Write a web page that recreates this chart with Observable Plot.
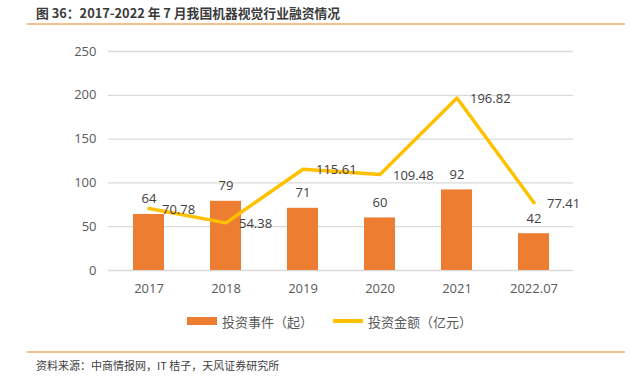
<!DOCTYPE html>
<html>
<head>
<meta charset="utf-8">
<script src="https://cdn.jsdelivr.net/npm/d3@7"></script>
<script src="https://cdn.jsdelivr.net/npm/@observablehq/plot@0.6"></script>
<style>
  body { margin: 0; background: #fff; }
  #wrap { position: relative; width: 633px; height: 377px; overflow: hidden; font-family: "Noto Sans CJK SC", "Open Sans", sans-serif; }
  #title { position: absolute; left: 36px; top: 3px; font-size: 12.8px; font-weight: bold; color: #3a3a3a; white-space: nowrap; }
  .hr { position: absolute; left: 27px; width: 598px; height: 2px; background: #F8C08F; }
  #chart { position: absolute; left: 0; top: 30px; }
  #legend { position: absolute; top: 311px; left: 0; width: 633px; height: 20px; font-size: 13px; color: #595959; }
  #legend .item { position: absolute; top: 0; display: flex; align-items: center; height: 20px; white-space: nowrap; }
  #source { position: absolute; left: 36px; top: 357px; font-size: 11px; color: #404040; white-space: nowrap; }
</style>
</head>
<body>
<div id="wrap">
  <div id="title">图 36：2017-2022 年 7 月我国机器视觉行业融资情况</div>
  <div class="hr" style="top:23px"></div>
  <div id="chart"></div>
  <div id="legend"></div>
  <div class="hr" style="top:351px"></div>
  <div id="source">资料来源：中商情报网，IT 桔子，天风证券研究所</div>
</div>
<script>
const years = ["2017", "2018", "2019", "2020", "2021", "2022.07"];
const events = [64, 79, 71, 60, 92, 42];
const amounts = [70.78, 54.38, 115.61, 109.48, 196.82, 77.41];
const yTicks = [0, 50, 100, 150, 200, 250];
const seriesNames = ["投资事件（起）", "投资金额（亿元）"];
const barColor = "#ED7D31";
const lineColor = "#FFC000";

const data = years.map((y, i) => ({year: y, events: events[i], amount: amounts[i]}));

const chart = Plot.plot({
  width: 633,
  height: 280,
  marginTop: 21,
  marginBottom: 40,
  marginLeft: 108,
  marginRight: 60,
  style: {fontFamily: "'Open Sans', 'Noto Sans CJK SC', sans-serif", fontSize: "13px", color: "#595959", background: "transparent"},
  x: {domain: years, paddingInner: 0.6, paddingOuter: 0.3, label: null},
  y: {domain: [0, 250], label: null},
  marks: [
    Plot.ruleY(yTicks, {stroke: "#d9d9d9", strokeWidth: 1.3}),
    Plot.axisY({ticks: yTicks, tickSize: 0, tickPadding: 12, label: null, fontSize: 13}),
    Plot.axisX({tickSize: 0, tickPadding: 13, label: null, fontSize: 13}),
    Plot.barY(data, {x: "year", y: "events", fill: barColor}),
    Plot.line(data, {x: "year", y: "amount", stroke: lineColor, strokeWidth: 3.5}),
    Plot.text(data, {x: "year", y: "events", text: d => String(d.events), lineAnchor: "bottom", dy: -11, fill: "#404040", fontSize: 13}),
    Plot.text(data, {x: "year", y: "amount", text: d => d.amount.toFixed(2), textAnchor: "start", dx: 13, dy: 1, fill: "#404040", fontSize: 13})
  ]
});
document.getElementById("chart").appendChild(chart);

const legend = document.getElementById("legend");
legend.innerHTML =
  `<div class="item" style="left:187px"><span style="display:inline-block;width:30px;height:8px;background:${barColor};margin-right:5px"></span>${seriesNames[0]}</div>` +
  `<div class="item" style="left:333px"><span style="display:inline-block;width:30px;height:3.5px;background:${lineColor};margin-right:5px"></span>${seriesNames[1]}</div>`;
</script>
</body>
</html>
